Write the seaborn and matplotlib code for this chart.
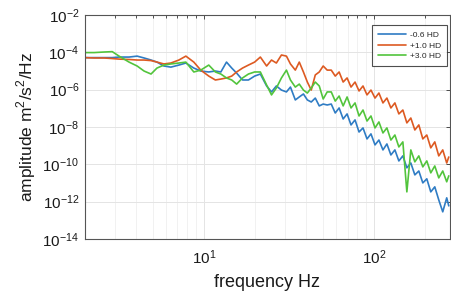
import numpy as np
import pandas as pd
import matplotlib
matplotlib.use("Agg")
import matplotlib.pyplot as plt
import matplotlib.ticker as mticker
import seaborn as sns

# frequency grid (Hz)
freq = [1.99, 2.27, 2.60, 2.90, 3.18, 3.64, 4.06, 4.46, 4.90, 5.31,
        5.83, 6.41, 7.14, 7.85, 8.74, 9.60, 10.7, 11.7, 12.6, 13.6,
        14.6, 15.6, 16.9, 18.3, 19.9, 21.5, 23.4, 25.0, 26.7, 28.6,
        30.6, 32.3, 34.5, 36.4, 38.5, 40.6, 42.8, 45.2, 47.7, 50.3,
        53.1, 56.1, 59.2, 62.4, 65.9, 69.5, 73.3, 77.4, 81.7, 86.2,
        91.0, 96.0, 101.4, 106.9, 112.9, 119.1, 125.7, 132.7, 140.0, 147.8,
        156.0, 164.6, 173.8, 183.4, 193.6, 204.3, 215.6, 227.6, 240.2, 253.5,
        267.5, 275.0]

# log10 of amplitude (m^2/s^2/Hz) for each series
blue_exp = [-4.28, -4.28, -4.28, -4.28, -4.25, -4.25, -4.20, -4.30, -4.41, -4.52,
            -4.73, -4.79, -4.68, -4.57, -4.84, -5.00, -5.05, -5.00, -5.05, -4.52,
            -4.84, -5.11, -5.48, -5.48, -5.27, -5.16, -5.80, -6.12, -5.80, -6.02,
            -6.12, -5.86, -6.55, -6.39, -6.23, -6.55, -6.66, -6.45, -6.87, -6.77,
            -6.82, -6.77, -7.25, -6.98, -7.57, -7.30, -7.89, -7.62, -8.27, -8.05,
            -8.64, -8.37, -8.96, -8.70, -9.23, -8.91, -9.50, -9.23, -9.82, -9.55,
            -10.19, -9.93, -10.57, -10.36, -11.00, -10.78, -11.48, -11.21, -11.91, -12.55,
            -11.80, -12.23]
orange_exp = [-4.28, -4.30, -4.30, -4.33, -4.36, -4.38, -4.41, -4.41, -4.44, -4.52,
              -4.62, -4.57, -4.41, -4.20, -4.52, -4.95, -5.27, -5.48, -5.43, -5.37,
              -5.27, -5.05, -4.84, -4.68, -4.52, -4.25, -4.73, -4.41, -4.57, -4.14,
              -4.20, -4.62, -4.95, -4.52, -5.05, -5.59, -6.02, -5.21, -5.05, -4.73,
              -4.95, -4.95, -5.27, -5.05, -5.59, -5.37, -5.86, -5.59, -6.07, -5.80,
              -6.28, -6.02, -6.45, -6.18, -6.71, -6.45, -6.98, -6.71, -7.30, -7.09,
              -7.78, -7.52, -8.16, -7.89, -8.64, -8.43, -9.12, -8.80, -9.55, -9.23,
              -9.93, -9.61]
green_exp = [-4.01, -4.01, -3.98, -3.96, -4.20, -4.52, -4.73, -5.00, -5.16, -4.84,
             -4.68, -4.62, -4.57, -4.52, -5.05, -4.95, -4.68, -5.05, -5.16, -5.37,
             -5.48, -5.70, -5.37, -5.16, -5.05, -5.05, -5.75, -6.28, -5.91, -5.37,
             -4.95, -5.48, -5.86, -5.70, -6.02, -6.18, -5.91, -5.59, -5.80, -6.50,
             -6.12, -6.12, -6.61, -6.34, -6.87, -6.39, -6.98, -6.71, -7.41, -7.09,
             -7.68, -7.41, -8.05, -7.73, -8.32, -8.05, -8.70, -8.43, -9.07, -8.80,
             -11.48, -9.23, -9.87, -9.55, -10.14, -9.82, -10.46, -10.09, -10.73, -10.36,
             -10.94, -10.62]

labels = ['-0.6 HD', '+1.0 HD', '+3.0 HD']
colors = ['#2f7cc4', '#dd5a22', '#52c43c']

df = pd.concat([
    pd.DataFrame({'freq': freq, 'amp': 10.0 ** np.array(vals), 'run': lab})
    for lab, vals in zip(labels, [blue_exp, orange_exp, green_exp])
], ignore_index=True)

sns.set_style('white')
plt.rcParams['font.family'] = ['Liberation Sans', 'DejaVu Sans']
plt.rcParams['mathtext.fontset'] = 'custom'
plt.rcParams['mathtext.rm'] = 'Liberation Sans'

fig = plt.figure(figsize=(4.51, 2.96), dpi=100)
ax = fig.add_axes([0.188, 0.193, 0.81, 0.756])

sns.lineplot(data=df, x='freq', y='amp', hue='run', palette=colors,
             estimator=None, sort=False, linewidth=1.2, ax=ax)

ax.set_xscale('log')
ax.set_yscale('log')
ax.set_xlim(2, 280)
ax.set_ylim(1e-14, 1e-2)

ax.set_yticks([1e-14, 1e-12, 1e-10, 1e-8, 1e-6, 1e-4, 1e-2])
ax.yaxis.set_minor_locator(mticker.NullLocator())
ax.yaxis.set_major_formatter(mticker.LogFormatterMathtext())
ax.xaxis.set_major_locator(mticker.LogLocator(base=10))
ax.xaxis.set_minor_locator(mticker.LogLocator(base=10, subs=np.arange(2, 10)))
ax.xaxis.set_minor_formatter(mticker.NullFormatter())

ax.grid(True, which='major', color='#e4e4e4', linewidth=0.7)
ax.grid(True, which='minor', axis='x', color='#efefef', linewidth=0.6)
ax.tick_params(which='both', direction='in', top=True, right=True,
               labelsize=11, colors='#333333', labelcolor='#1a1a1a',
               length=3, width=0.6, pad=4)
ax.tick_params(axis='x', which='major', pad=7)
ax.tick_params(which='minor', length=2)
for s in ax.spines.values():
    s.set_color('#555555')
    s.set_linewidth(0.8)

ax.set_xlabel('frequency Hz', fontsize=13, color='#1a1a1a', labelpad=5)
ax.set_ylabel('amplitude m$^2$/s$^2$/Hz', fontsize=12.5, color='#1a1a1a', labelpad=3)

leg = ax.legend(loc='upper right', fontsize=6, frameon=True, fancybox=False,
                edgecolor='#222222', handlelength=3.4, borderpad=0.7,
                labelspacing=0.35, handletextpad=0.5, borderaxespad=0,
                bbox_to_anchor=(0.992, 0.955))
leg.get_frame().set_linewidth(0.8)

fig.savefig('out.png', dpi=100)
